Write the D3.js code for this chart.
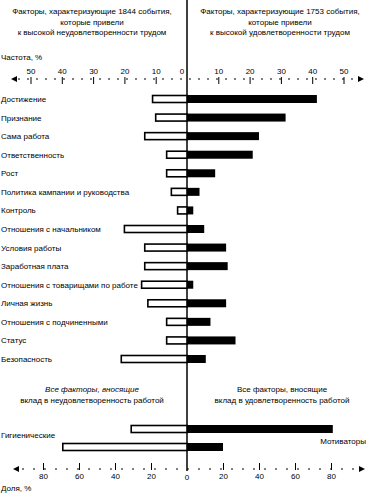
<!DOCTYPE html>
<html><head><meta charset="utf-8">
<script src="https://cdn.jsdelivr.net/npm/d3@7"></script>
<style>
html,body{margin:0;padding:0;background:#fff;}
svg{display:block;font-family:"Liberation Sans",Arial,sans-serif;}
</style></head>
<body><svg id="c" width="368" height="495"></svg>
<script>
const factors = ["Достижение","Признание","Сама работа","Ответственность","Рост","Политика кампании и руководства","Контроль","Отношения с начальником","Условия работы","Заработная плата","Отношения с товарищами по работе","Личная жизнь","Отношения с подчиненными","Статус","Безопасность"];
const dissatisfied = [11, 10, 13.5, 6.5, 6.5, 5, 3, 20, 13.5, 13.5, 14.5, 12.5, 6.5, 6.5, 21];
const satisfied = [41.5, 31.5, 23, 21, 9, 4, 2, 5.5, 12.5, 13, 2, 12.5, 7.5, 15.5, 6];
const topTicks = [-50,-40,-30,-20,-10,10,20,30,40,50];
const summaryRows = ["row1","row2"];
const summaryDissat = [31, 69];
const summarySat = [81, 20];
const bottomTicks = [-80,-60,-40,-20,20,40,60,80];

const svg = d3.select("#c");
const fs = 8;
const x = d3.scaleLinear().domain([-50,50]).range([30.5,343.5]);
const xb = d3.scaleLinear().domain([-80,80]).range([43,331]);
const y = d3.scalePoint().domain(factors).range([99,359]);
const yb = d3.scalePoint().domain(summaryRows).range([429,447]);
const cx = x(0);

function tlines(lines, xc, y0, dy, italicFirst){
  lines.forEach((t,i)=>svg.append("text").attr("x",xc).attr("y",y0+i*dy)
    .attr("text-anchor","middle").attr("font-size",fs)
    .attr("font-style", (italicFirst && i===0)?"italic":"normal").text(t));
}
tlines(["Факторы, характеризующие 1844 события,","которые привели","к высокой неудовлетворенности трудом"], 92, 14, 10.5);
tlines(["Факторы, характеризующие 1753 события,","которые привели","к высокой удовлетворенности трудом"], 280, 14, 10.5);
svg.append("text").attr("x",1).attr("y",60).attr("font-size",fs).text("Частота, %");

// top axis
const axT = d3.axisTop(x).tickValues(topTicks).tickSize(7).tickPadding(3).tickFormat(d=>Math.abs(d));
const gT = svg.append("g").attr("transform","translate(0,84)").call(axT);
gT.select(".domain").remove();
gT.selectAll("text").attr("font-size",fs).attr("font-family","Liberation Sans, Arial, sans-serif");
gT.selectAll("line").attr("stroke","#000");
svg.append("text").attr("x",cx-5).attr("y",74).attr("text-anchor","middle").attr("font-size",fs).text("0");
svg.append("line").attr("x1",18).attr("x2",356).attr("y1",79).attr("y2",79)
  .attr("stroke","#000").attr("stroke-dasharray","2,7");
function arrow(xp, yp, dir){
  svg.append("path").attr("d",`M${xp},${yp} l${-dir*6},-3 l0,6 z`).attr("fill","#000");
}
arrow(11,79,-1); arrow(364,79,1);

// center line
svg.append("line").attr("x1",cx).attr("x2",cx).attr("y1",0).attr("y2",471).attr("stroke","#000").attr("stroke-width",1.5);

// factor labels
svg.append("g").selectAll("text").data(factors).join("text")
  .attr("x",1).attr("y",d=>y(d)+3).attr("font-size",fs).text(d=>d);

const bh = 8;
svg.append("g").selectAll("rect").data(dissatisfied).join("rect")
  .attr("x",d=>x(-d)).attr("y",(d,i)=>y(factors[i])-bh/2+0.5)
  .attr("width",d=>cx-x(-d)).attr("height",bh-1)
  .attr("fill","#fff").attr("stroke","#000").attr("stroke-width",1.6);
svg.append("g").selectAll("rect").data(satisfied).join("rect")
  .attr("x",cx).attr("y",(d,i)=>y(factors[i])-bh/2)
  .attr("width",d=>x(d)-cx).attr("height",bh).attr("fill","#000");

// bottom titles
tlines(["Все факторы, вносящие","вклад в неудовлетворенность работой"], 92, 392, 10.5, true);
tlines(["Все факторы, вносящие","вклад в удовлетворенность работой"], 282, 392, 10.5, false);

svg.append("g").selectAll("rect").data(summaryDissat).join("rect")
  .attr("x",d=>xb(-d)).attr("y",(d,i)=>yb(summaryRows[i])-bh/2+0.5)
  .attr("width",d=>cx-xb(-d)).attr("height",bh-1)
  .attr("fill","#fff").attr("stroke","#000").attr("stroke-width",1.6);
svg.append("g").selectAll("rect").data(summarySat).join("rect")
  .attr("x",cx).attr("y",(d,i)=>yb(summaryRows[i])-bh/2)
  .attr("width",d=>xb(d)-cx).attr("height",bh).attr("fill","#000");
svg.append("text").attr("x",1).attr("y",438).attr("font-size",fs).text("Гигиенические");
svg.append("text").attr("x",366).attr("y",444).attr("text-anchor","end").attr("font-size",fs).text("Мотиваторы");

// bottom axis
const axB = d3.axisBottom(xb).tickValues(bottomTicks).tickSize(7).tickPadding(3).tickFormat(d=>Math.abs(d));
const gB = svg.append("g").attr("transform","translate(0,463)").call(axB);
gB.select(".domain").remove();
gB.selectAll("text").attr("font-size",fs).attr("font-family","Liberation Sans, Arial, sans-serif");
gB.selectAll("line").attr("stroke","#000");
svg.append("text").attr("x",cx).attr("y",480).attr("text-anchor","middle").attr("font-size",fs).text("0");
svg.append("line").attr("x1",22).attr("x2",356).attr("y1",469).attr("y2",469)
  .attr("stroke","#000").attr("stroke-dasharray","2,9");
arrow(13,469,-1); arrow(365,469,1);
svg.append("text").attr("x",1).attr("y",491).attr("font-size",fs).text("Доля, %");
</script></body></html>
